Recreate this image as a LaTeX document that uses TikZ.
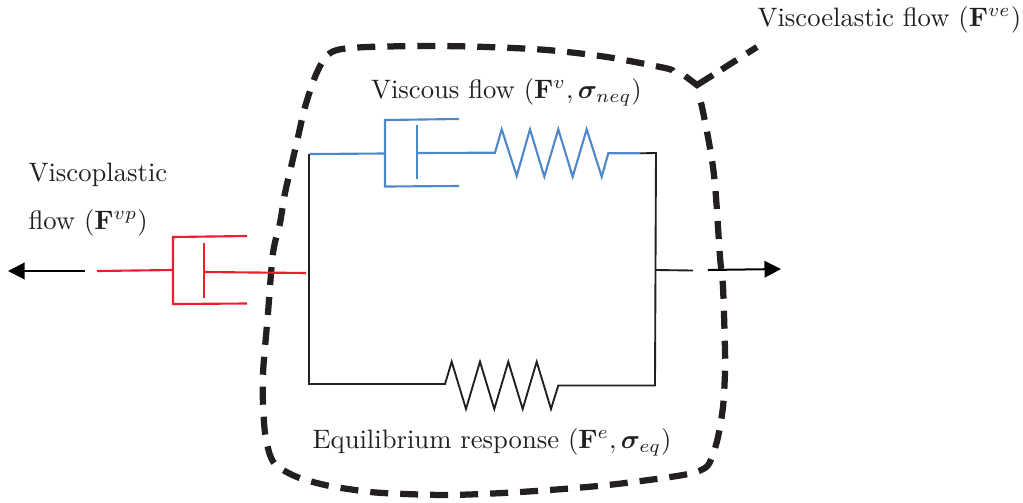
\documentclass[tikz,border=0pt]{standalone}
\usepackage{amsmath,bm}
\usetikzlibrary{arrows.meta}
\definecolor{inkk}{RGB}{35,31,32}
\definecolor{redd}{RGB}{237,28,46}
\definecolor{bluu}{RGB}{78,136,200}
\tikzset{
 lab/.style={anchor=base west,inner sep=0pt,text=inkk,scale=1.066},
 blob/.style={draw=inkk,line width=2.5pt,dash pattern=on 7.2pt off 4.8pt},
 wire/.style={draw=inkk,line width=0.75pt,line join=miter},
 redw/.style={draw=redd,line width=0.85pt},
 bluw/.style={draw=bluu,line width=0.85pt},
 arr/.style={draw=black,line width=0.8pt,-{Triangle[length=6.6pt,width=6.6pt]}}
}
\begin{document}
\begin{tikzpicture}[x=0.4pt,y=-0.4pt]
\useasboundingbox (0,0) rectangle (1023,502);
% labels
\node[lab] (ve) at (757,26.5) {Viscoelastic flow ($\mathbf{F}^{ve}$)};
\node[lab] (v) at (370.5,98.5) {Viscous flow ($\mathbf{F}^{v},\bm{\sigma}_{neq}$)};
\node[lab] (vp1) at (28,181) {Viscoplastic};
\node[lab] (vp2) at (28,229) {flow ($\mathbf{F}^{vp}$)};
\node[lab] (e) at (312,448) {Equilibrium response ($\mathbf{F}^{e},\bm{\sigma}_{eq}$)};
% outline
\coordinate (J) at (697,85);
\coordinate (T) at (757,47);
\coordinate (V1) at (713,75);
\coordinate (V2) at (685,76);
\draw[blob] plot[smooth,tension=0.5] coordinates {(673,71) (665,68) (607,57) (547,50) (487,47) (433,46) (367,47) (337,50) (325,58) (315,77) (305,107) (298,137) (292,163) (285,193) (280,223) (273,253) (268,313) (263,373) (263,403) (265,433) (270,455) (277,466) (297,477) (325,485) (355,490) (383,493) (445,495) (503,493) (563,489) (617,484) (683,475) (705,468) (712,457) (718,437) (723,407) (725,373) (725,350) (723,287) (720,257) (716,197) (713,167) (708,137) (702,107) (700,99)};
\draw[blob,dash phase=2.4pt] (T) -- (V1);
\draw[draw=inkk,line width=2.5pt,line join=miter] (V1) -- (J) -- (V2);
% black
\coordinate (TL) at (309,154);
\coordinate (TR) at (656,153);
\coordinate (BL) at (309,384);
\coordinate (BR) at (655,385.5);
\coordinate (MR) at (655.5,270);
\coordinate (S1) at (693,270.5);
\coordinate (A1) at (708,270);
\coordinate (A2) at (781,269);
\coordinate (A3) at (85,271);
\coordinate (A4) at (8,271);
\draw[wire] (640,153.3) -- (TR) -- (BR) -- (558.3,385.5) -- (551,409) -- (536.7,361.7) -- (522.7,409) -- (508.3,361.7) -- (494.3,409) -- (480,361.7) -- (466,409) -- (451.7,361.7) -- (445,384) -- (BL) -- (TL);
\draw[wire] (MR) -- (S1);
\draw[arr] (A1) -- (A2);
\draw[arr] (A3) -- (A4);
% red
\coordinate (R0) at (97,271);
\coordinate (R1) at (173,270);
\coordinate (R2) at (204,272);
\coordinate (R3) at (306,273);
\draw[redw] (R0) -- (R1);
\draw[redw] (247,236) -- (173,237) -- (173,304) -- (247,303.5);
\draw[redw] (204,243) -- (204,298);
\draw[redw] (R2) -- (R3);
% blue
\coordinate (B0) at (310,154);
\coordinate (B1) at (385,153.5);
\coordinate (B2) at (417,153);
\coordinate (B3) at (495,152.7);
\draw[bluw] (B0) -- (B1);
\draw[bluw] (459,119) -- (385,120) -- (385,186.5) -- (459,186);
\draw[bluw] (417,125) -- (417,179);
\draw[bluw] (B2) -- (B3) -- (501.7,129.3) -- (516.7,176) -- (530,129.3) -- (544.3,176.7) -- (558.3,129.3) -- (572.7,176.7) -- (586.7,129.3) -- (601.7,176.7) -- (608.3,153.3) -- (640,153.3);
\end{tikzpicture}
\end{document}
